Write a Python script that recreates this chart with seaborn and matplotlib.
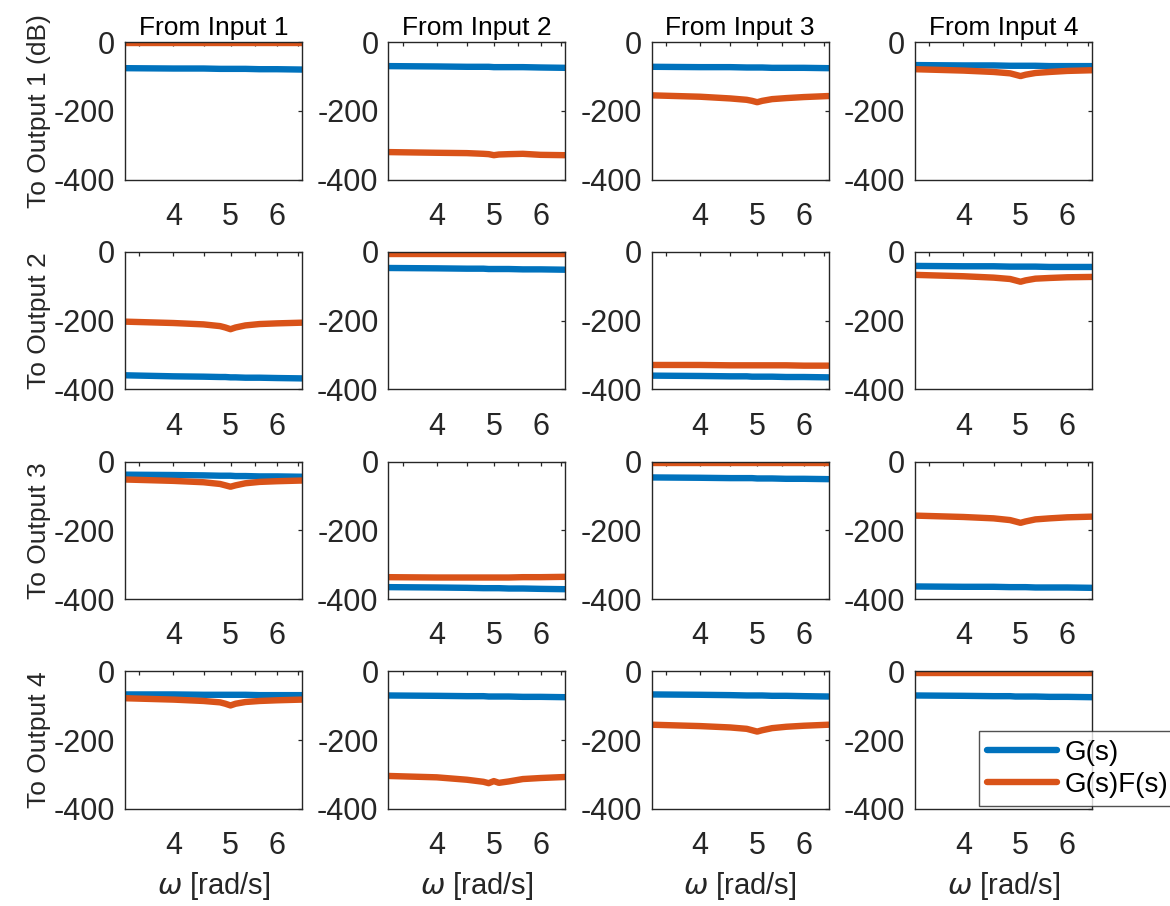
import matplotlib
matplotlib.use("Agg")
import matplotlib.pyplot as plt
import seaborn as sns

# frequency grid [rad/s]
omega = [3.31, 4.0, 4.5, 4.8, 4.9, 5.0, 5.1, 5.3, 5.6, 6.0, 6.61]

inputs = ["From Input 1", "From Input 2", "From Input 3", "From Input 4"]
outputs = ["To Output 1 (dB)", "To Output 2", "To Output 3", "To Output 4"]
series_names = ["G(s)", "G(s)F(s)"]

# magnitude (dB) of G(s), one list per input, for each output
g_out1 = [
    [-76, -77, -77, -78, -78, -78, -78, -78, -79, -79, -80],
    [-70, -71, -72, -72, -72, -73, -73, -73, -73, -74, -75],
    [-72, -73, -73, -74, -74, -74, -74, -75, -75, -75, -76],
    [-67, -68, -68, -69, -69, -69, -69, -69, -70, -70, -70],
]
g_out2 = [
    [-359, -362, -363, -364, -364, -365, -365, -366, -366, -367, -368],
    [-47, -48, -49, -49, -50, -50, -50, -50, -51, -51, -52],
    [-360, -361, -362, -362, -363, -363, -363, -363, -364, -364, -365],
    [-41, -42, -42, -43, -43, -43, -43, -43, -44, -44, -44],
]
g_out3 = [
    [-38, -39, -40, -41, -41, -41, -42, -42, -43, -43, -44],
    [-365, -366, -367, -368, -368, -368, -368, -369, -369, -370, -371],
    [-46, -47, -48, -48, -48, -49, -49, -49, -50, -50, -51],
    [-363, -364, -364, -365, -365, -365, -365, -366, -366, -366, -367],
]
g_out4 = [
    [-67, -67, -68, -68, -68, -68, -68, -68, -69, -69, -69],
    [-70, -71, -72, -72, -73, -73, -73, -73, -74, -74, -75],
    [-67, -68, -69, -70, -70, -70, -70, -71, -71, -72, -73],
    [-70, -71, -72, -72, -73, -73, -73, -73, -74, -74, -75],
]

# magnitude (dB) of G(s)F(s)
gf_out1 = [
    [-4, -4, -4, -4, -4, -4, -4, -4, -4, -4, -4],
    [-320, -322, -323, -325, -326, -329, -327, -326, -325, -328, -329],
    [-155, -159, -164, -168, -171, -175, -171, -166, -163, -160, -157],
    [-79, -83, -87, -91, -95, -99, -95, -90, -87, -84, -82],
]
gf_out2 = [
    [-203, -207, -211, -216, -220, -225, -220, -214, -210, -208, -206],
    [-5, -5, -5, -5, -5, -5, -5, -5, -5, -5, -5],
    [-329, -329, -330, -330, -330, -330, -330, -330, -330, -331, -331],
    [-67, -71, -75, -79, -83, -87, -83, -78, -76, -74, -73],
]
gf_out3 = [
    [-52, -56, -60, -65, -69, -73, -69, -63, -59, -57, -55],
    [-336, -337, -337, -337, -337, -337, -337, -337, -336, -336, -335],
    [-5, -5, -5, -5, -5, -5, -5, -5, -5, -5, -5],
    [-157, -161, -165, -170, -174, -178, -174, -168, -165, -162, -160],
]
gf_out4 = [
    [-78, -82, -86, -90, -94, -99, -94, -89, -86, -84, -82],
    [-304, -308, -315, -321, -325, -319, -324, -320, -313, -310, -307],
    [-155, -159, -163, -167, -171, -175, -171, -165, -161, -158, -155],
    [-5, -5, -5, -5, -5, -5, -5, -5, -5, -5, -5],
]

g_all = [g_out1, g_out2, g_out3, g_out4]
gf_all = [gf_out1, gf_out2, gf_out3, gf_out4]

blue = "#0072BD"
orange = "#D95319"
dark = "#262626"

sns.set_style("white")
plt.rcParams["font.family"] = ["Liberation Sans", "DejaVu Sans"]
plt.rcParams["mathtext.fontset"] = "dejavusans"

fig, axes = plt.subplots(4, 4, figsize=(11.7, 9.06), dpi=100)
fig.subplots_adjust(left=0.1068, right=0.9333, top=0.9536, bottom=0.1071,
                    wspace=0.488, hspace=0.525)

for i in range(4):
    for j in range(4):
        ax = axes[i, j]
        sns.lineplot(x=omega, y=g_all[i][j], ax=ax, color=blue, linewidth=4.6,
                     label=series_names[0], legend=False)
        sns.lineplot(x=omega, y=gf_all[i][j], ax=ax, color=orange, linewidth=4.6,
                     label=series_names[1], legend=False)
        ax.set_xscale("log")
        ax.set_xlim(3.31, 6.61)
        ax.set_ylim(-400, 0)
        ax.set_xticks([4, 5, 6])
        ax.set_xticklabels(["4", "5", "6"])
        ax.set_xticks([3.5, 4.5, 5.5, 6.5], minor=True)
        ax.set_xticklabels([], minor=True)
        ax.set_yticks([-400, -200, 0])
        ax.set_yticklabels(["-400", "-200", "0"])
        ax.tick_params(axis="both", which="both", direction="in", length=3,
                       width=0.9, color=dark, top=True, right=True,
                       labelsize=22, labelcolor=dark)
        ax.tick_params(axis="x", which="both", pad=16)
        ax.tick_params(axis="y", which="both", pad=7)
        for s in ax.spines.values():
            s.set_visible(True)
            s.set_color(dark)
            s.set_linewidth(1.0)
        if i == 0:
            ax.set_title(inputs[j], fontsize=19, color="black", pad=5)
        if j == 0:
            ax.set_ylabel(outputs[i], fontsize=19, color=dark, labelpad=2)
        if i == 3:
            ax.set_xlabel(r"$\omega$ [rad/s]", fontsize=21, color=dark, labelpad=6)

handles, labels = axes[3, 3].get_legend_handles_labels()
leg = fig.legend(handles, labels, loc="lower left",
                 bbox_to_anchor=(979 / 1170, 1 - 806 / 906),
                 fontsize=20, frameon=True, fancybox=False, edgecolor=dark,
                 handlelength=2.5, borderpad=0.3, labelspacing=0.22,
                 handletextpad=0.3, borderaxespad=0)
leg.get_frame().set_linewidth(1.0)
for t in leg.get_texts():
    t.set_color("black")

fig.savefig("out.png", dpi=100, facecolor="white")
